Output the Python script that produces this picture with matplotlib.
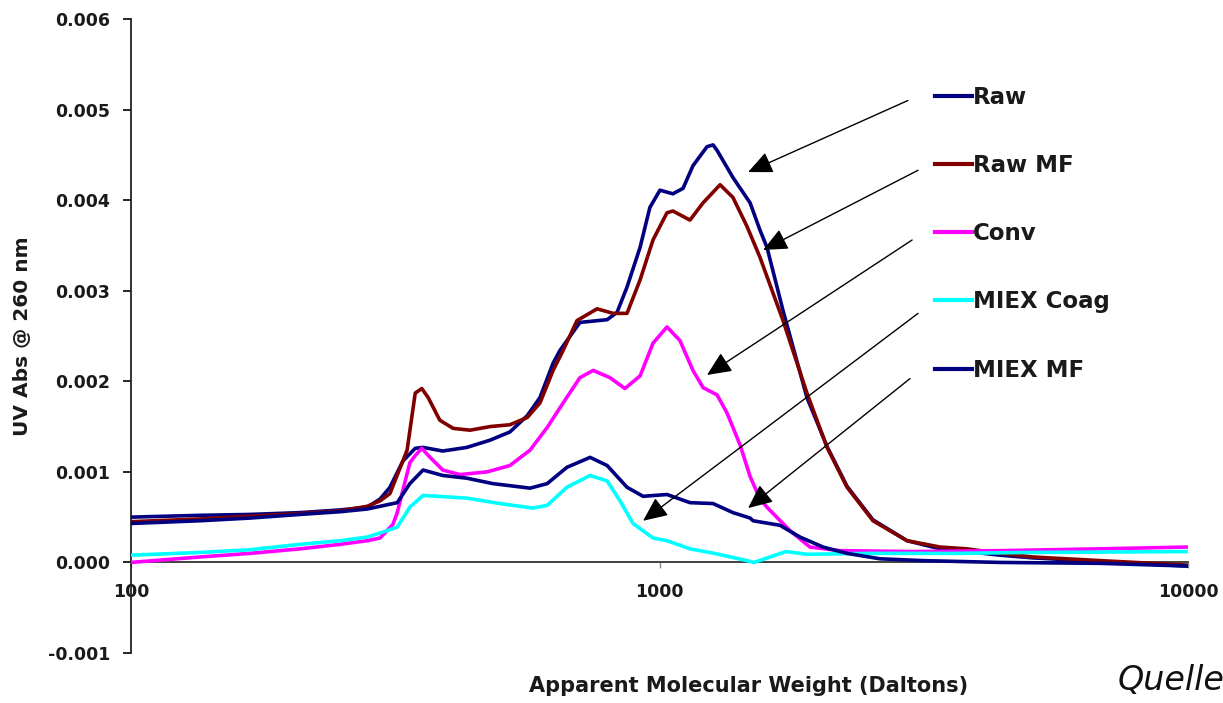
import matplotlib
matplotlib.use("Agg")
import matplotlib.pyplot as plt
from matplotlib.ticker import FixedLocator, NullLocator, FuncFormatter
from matplotlib.lines import Line2D

plt.rcParams['font.family'] = ['DejaVu Sans']

# ---------------- data (apparent MW in Daltons, UV absorbance) ----------------
raw_mw = [100, 135, 168, 209, 249, 280, 296, 309, 327, 345, 357, 389, 432, 478, 521, 562,
          594, 629, 648, 707, 796, 831, 868, 919, 959, 1002, 1060, 1108, 1157, 1230, 1263,
          1285, 1377, 1484, 1549, 1597, 1713, 1901, 2075, 2264, 2535, 2940, 3395, 3818,
          4409, 5090, 6816, 10000]
raw_abs = [0.00050, 0.00052, 0.00053, 0.00055, 0.00058, 0.00061, 0.00070, 0.00083, 0.00112,
           0.00126, 0.00127, 0.00123, 0.00127, 0.00135, 0.00144, 0.00162, 0.00182, 0.00220,
           0.00234, 0.00265, 0.00268, 0.00276, 0.00304, 0.00348, 0.00392, 0.00411, 0.00407,
           0.00413, 0.00438, 0.00459, 0.00461, 0.00455, 0.00425, 0.00397, 0.00367, 0.00348,
           0.00278, 0.00182, 0.00128, 0.00084, 0.00047, 0.00024, 0.00015, 0.00012, 0.00008,
           0.00005, 0.00001, -0.00004]

rawmf_mw = [100, 135, 168, 209, 249, 280, 296, 309, 333, 345, 355, 365, 384, 407, 438, 478,
            521, 562, 594, 629, 657, 698, 762, 817, 868, 919, 972, 1033, 1060, 1142, 1209,
            1302, 1377, 1464, 1549, 1713, 1901, 2075, 2264, 2535, 2940, 3395, 3818, 4409,
            5090, 6816, 10000]
rawmf_abs = [0.00045, 0.00048, 0.00051, 0.00054, 0.00057, 0.00062, 0.00068, 0.00076, 0.00124,
             0.00187, 0.00192, 0.00182, 0.00157, 0.00148, 0.00146, 0.00150, 0.00152, 0.00160,
             0.00176, 0.00212, 0.00234, 0.00267, 0.00280, 0.00275, 0.00275, 0.00312, 0.00356,
             0.00386, 0.00388, 0.00378, 0.00397, 0.00417, 0.00403, 0.00371, 0.00337, 0.00267,
             0.00187, 0.00127, 0.00083, 0.00046, 0.00024, 0.00017, 0.00015, 0.00010, 0.00006,
             0.00002, -0.00003]

conv_mw = [100, 135, 168, 209, 249, 280, 296, 313, 319, 327, 337, 345, 355, 368, 389, 419,
           472, 521, 569, 613, 657, 707, 749, 806, 860, 919, 972, 1033, 1093, 1157, 1209,
           1285, 1342, 1420, 1484, 1549, 1597, 1766, 1926, 2195, 3000, 4409, 6816, 10000]
conv_abs = [0.00000, 0.00006, 0.00010, 0.00015, 0.00020, 0.00024, 0.00027, 0.00042, 0.00055,
            0.00080, 0.00110, 0.00118, 0.00126, 0.00116, 0.00102, 0.00097, 0.00100, 0.00107,
            0.00124, 0.00149, 0.00176, 0.00204, 0.00212, 0.00204, 0.00192, 0.00206, 0.00242,
            0.00260, 0.00245, 0.00212, 0.00193, 0.00185, 0.00165, 0.00130, 0.00095, 0.00070,
            0.00061, 0.00035, 0.00017, 0.00013, 0.00012, 0.00013, 0.00015, 0.00017]

coag_mw = [100, 135, 168, 209, 249, 280, 305, 319, 337, 357, 432, 499, 576, 613, 668, 739,
           796, 842, 891, 972, 1033, 1142, 1270, 1464, 1510, 1735, 1901, 2500, 3607, 5000,
           10000]
coag_abs = [0.00008, 0.00011, 0.00014, 0.00020, 0.00024, 0.00028, 0.00035, 0.00039, 0.00061,
            0.00074, 0.00071, 0.00065, 0.00060, 0.00063, 0.00083, 0.00096, 0.00090, 0.00068,
            0.00043, 0.00027, 0.00024, 0.00015, 0.00010, 0.00002, 0.00000, 0.00012, 0.00009,
            0.00010, 0.00010, 0.00011, 0.00012]

miexmf_mw = [100, 135, 168, 209, 249, 280, 319, 337, 357, 389, 432, 484, 569, 613, 668, 739,
             796, 868, 931, 1033, 1142, 1263, 1377, 1484, 1503, 1690, 1845, 2039, 2264, 2614,
             3152, 4409, 6816, 10000]
miexmf_abs = [0.00043, 0.00046, 0.00049, 0.00053, 0.00056, 0.00059, 0.00066, 0.00087, 0.00102,
              0.00096, 0.00093, 0.00087, 0.00082, 0.00087, 0.00105, 0.00116, 0.00107, 0.00083,
              0.00073, 0.00075, 0.00066, 0.00065, 0.00055, 0.00049, 0.00046, 0.00041, 0.00028,
              0.00017, 0.00010, 0.00004, 0.00002, 0.00000, -0.00001, -0.00004]

series_names = ["Raw", "Raw MF", "Conv", "MIEX Coag", "MIEX MF"]
series_colors = ["#000080", "#800000", "#FF00FF", "#00FFFF", "#000080"]

x_ticks = [100, 1000, 10000]
y_ticks = [-0.001, 0.000, 0.001, 0.002, 0.003, 0.004, 0.005, 0.006]

# arrows: (head MW, head abs) <- (tail MW, tail abs)
arrow_heads_mw = [1471, 1571, 1230, 931, 1471]
arrow_heads_abs = [0.00431, 0.00345, 0.00207, 0.00046, 0.00060]
arrow_tails_mw = [2951, 3085, 3006, 3085, 2979]
arrow_tails_abs = [0.00510, 0.00433, 0.00356, 0.00275, 0.00203]

# ---------------- figure ----------------
fig = plt.figure(figsize=(12.23, 7.03), dpi=100)
ax = fig.add_axes([131 / 1223, 1 - 653 / 703, (1188 - 131) / 1223, (653 - 19) / 703])

all_x = [raw_mw, rawmf_mw, conv_mw, coag_mw, miexmf_mw]
all_y = [raw_abs, rawmf_abs, conv_abs, coag_abs, miexmf_abs]
handles = []
for xs, ys, name, col in zip(all_x, all_y, series_names, series_colors):
    ax.plot(xs, ys, color=col, lw=2.6, solid_joinstyle='round', solid_capstyle='round',
            label=name, zorder=3)
    handles.append(Line2D([0], [0], color=col, lw=3.0))

for hx, hy, tx, ty in zip(arrow_heads_mw, arrow_heads_abs, arrow_tails_mw, arrow_tails_abs):
    ax.annotate("", xy=(hx, hy), xytext=(tx, ty),
                arrowprops=dict(arrowstyle="-|>,head_length=1.0,head_width=0.45",
                                color="black", lw=1.0, mutation_scale=15,
                                shrinkA=0, shrinkB=0), zorder=4)

ax.set_xscale('log')
ax.set_xlim(100, 10000)
ax.set_ylim(-0.001, 0.006)

ax.spines['top'].set_visible(False)
ax.spines['right'].set_visible(False)
ax.spines['bottom'].set_position(('data', 0))
ax.spines['bottom'].set_color('#333333')
ax.spines['left'].set_color('#222222')
ax.spines['left'].set_linewidth(1.3)
ax.spines['bottom'].set_linewidth(1.3)

ax.xaxis.set_major_locator(FixedLocator(x_ticks))
ax.xaxis.set_minor_locator(NullLocator())
ax.xaxis.set_major_formatter(FuncFormatter(lambda v, p: f"{int(round(v))}"))
ax.yaxis.set_major_locator(FixedLocator(y_ticks))
ax.yaxis.set_major_formatter(FuncFormatter(lambda v, p: f"{v:.3f}"))

ax.tick_params(axis='x', direction='out', length=4, width=1, color='#888888', pad=11,
               labelsize=12.5)
ax.tick_params(axis='y', direction='out', length=6, width=1.2, pad=9, labelsize=12.5)
for lab in ax.get_xticklabels() + ax.get_yticklabels():
    lab.set_fontweight('bold')
    lab.set_color('#1a1a1a')

ax.set_ylabel("UV Abs @ 260 nm", fontsize=14.5, fontweight='bold', color='#1a1a1a')
ax.yaxis.set_label_coords(-0.094, 0.5)
ax.set_xlabel("Apparent Molecular Weight (Daltons)", fontsize=15, fontweight='bold',
              color='#1a1a1a')
ax.xaxis.set_label_coords(0.584, -0.037)

leg = ax.legend(handles, series_names, loc='upper left',
                bbox_to_anchor=(935 / 1223, 1 - 86 / 703), bbox_transform=fig.transFigure,
                frameon=False, handlelength=1.6, handletextpad=0.05, labelspacing=1.97,
                borderpad=0, borderaxespad=0,
                prop=dict(family='DejaVu Sans', weight='bold', size=16.5))
for t in leg.get_texts():
    t.set_color('#1a1a1a')

fig.text(1118 / 1223, 1 - 681 / 703, "Quelle", fontsize=24, style='italic',
         ha='left', va='center', color='#111111')

fig.savefig("out.png", dpi=100)
